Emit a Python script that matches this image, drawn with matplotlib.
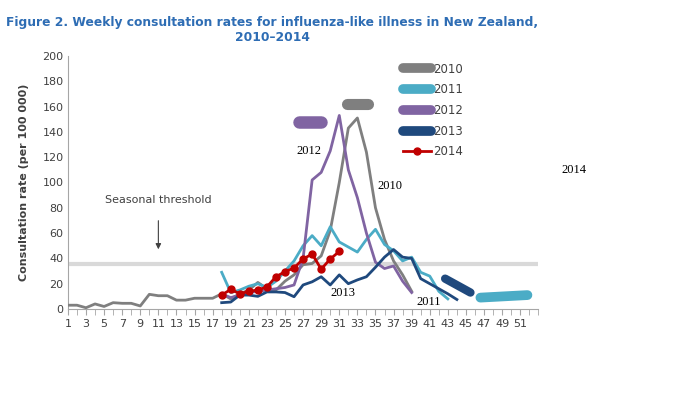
import matplotlib
matplotlib.use("Agg")
import matplotlib.pyplot as plt
from matplotlib.lines import Line2D

# weekly consultation rates (per 100 000)
weeks_2010 = list(range(1, 40))
rate_2010 = [3, 3, 1, 4, 2, 5, 4.5, 4.5, 2.4, 11.6, 10.5, 10.5, 7, 7, 8.5, 8.5, 8.5,
             12, 8, 12, 15, 21, 16, 15, 22, 27, 35, 36, 42, 62, 100, 143, 151, 124,
             80, 55, 38, 27, 14]

weeks_2011 = list(range(18, 44))
rate_2011 = [29, 13, 15, 18, 20, 17, 22, 30, 38, 50, 58, 50, 65, 53, 49, 45, 55, 63,
             51, 46, 38, 41, 29, 26, 14, 8]

weeks_2012 = list(range(18, 40))
rate_2012 = [12, 9, 11, 13, 14, 15, 16, 17, 19, 40, 102, 108, 125, 153, 110, 88, 60,
             37, 32, 34, 22, 13]

weeks_2013 = list(range(18, 45))
rate_2013 = [5, 5.5, 11, 11, 10, 13.5, 13.5, 13, 9.7, 19, 21.5, 25.5, 19, 27, 20, 23,
             25.5, 33, 41, 47, 41, 40, 24, 20, 16, 12, 7.5]

weeks_2014 = list(range(18, 32))
rate_2014 = [11, 15.5, 12, 14, 15, 17.5, 25.5, 29.5, 32.5, 39.5, 43.5, 31.5, 39.5, 45.5]

threshold = 35.6
year_labels = ["2010", "2011", "2012", "2013", "2014"]
colors = ["#7F7F7F", "#4BACC6", "#8064A2", "#1F497D", "#C00000"]

# in-chart year labels (week, rate)
label_text = ["2012", "2010", "2013", "2011", "2014"]
label_x = [27.6, 36.6, 31.4, 40.9, 56.9]
label_y = [125, 97, 12.5, 5.5, 110]

# scribbled-over marks in the original (start week, start rate, end week, end rate)
scribbles = [
    (31.8, 162, 34.2, 162, "#7F7F7F", 8),
    (26.5, 148, 29.0, 148, "#8064A2", 9),
    (42.7, 24, 45.5, 13, "#1F497D", 6),
    (46.6, 9, 51.8, 11, "#4BACC6", 7),
]

fig = plt.figure(figsize=(7, 4), dpi=100)
ax = fig.add_axes([0.097, 0.2275, 0.672, 0.6325])

ax.axhline(threshold, color="#D9D9D9", lw=3, zorder=1)

series = [(weeks_2010, rate_2010), (weeks_2011, rate_2011), (weeks_2012, rate_2012),
          (weeks_2013, rate_2013)]
for (wk, rt), c in zip(series, colors[:4]):
    ax.plot(wk, rt, color=c, lw=2, zorder=3)
ax.plot(weeks_2014, rate_2014, color=colors[4], lw=2, marker="o", ms=5, zorder=4)

for x0, y0, x1, y1, c, w in scribbles:
    ax.plot([x0, x1], [y0, y1], color=c, lw=w, solid_capstyle="round", zorder=5)

for t, x, y in zip(label_text, label_x, label_y):
    ax.text(x, y, t, family="Liberation Serif", fontsize=9, ha="center", va="center",
            clip_on=False)

ax.text(11, 86, "Seasonal threshold", fontsize=8, color="#404040", ha="center", va="center")
ax.annotate("", xy=(11, 45), xytext=(11, 72),
            arrowprops=dict(arrowstyle="-|>", color="#404040", lw=0.8, mutation_scale=8))

ax.set_xlim(1, 53)
ax.set_ylim(0, 200)
ax.set_xticks(range(1, 53, 2))
ax.set_xticks(range(1, 54), minor=True)
ax.set_yticks(range(0, 201, 20))
ax.tick_params(axis="both", labelsize=8, colors="#404040", length=0, pad=3)
ax.tick_params(axis="x", which="both", length=4, color="#A6A6A6", direction="out")
for s in ["top", "right"]:
    ax.spines[s].set_visible(False)
for s in ["left", "bottom"]:
    ax.spines[s].set_color("#A6A6A6")
ax.set_ylabel("Consultation rate (per 100 000)", fontsize=8, fontweight="bold",
              color="#404040", labelpad=10)

handles = []
for i, c in enumerate(colors):
    if i < 4:
        handles.append(Line2D([], [], color=c, lw=7, solid_capstyle="round"))
    else:
        handles.append(Line2D([], [], color=c, lw=2, marker="o", ms=5))
fig.legend(handles, year_labels, loc="upper left", bbox_to_anchor=(0.56, 0.87),
           frameon=False, fontsize=8.5, handlelength=2.4, handletextpad=0.2,
           labelspacing=0.65, labelcolor="#404040")

fig.text(0.389, 0.96, "Figure 2. Weekly consultation rates for influenza-like illness in New Zealand,\n2010\u20132014",
         fontsize=8.8, fontweight="bold", color="#2E6DB4", ha="center", va="top",
         multialignment="center", linespacing=1.2)

fig.savefig("out.png", dpi=100, facecolor="white")
